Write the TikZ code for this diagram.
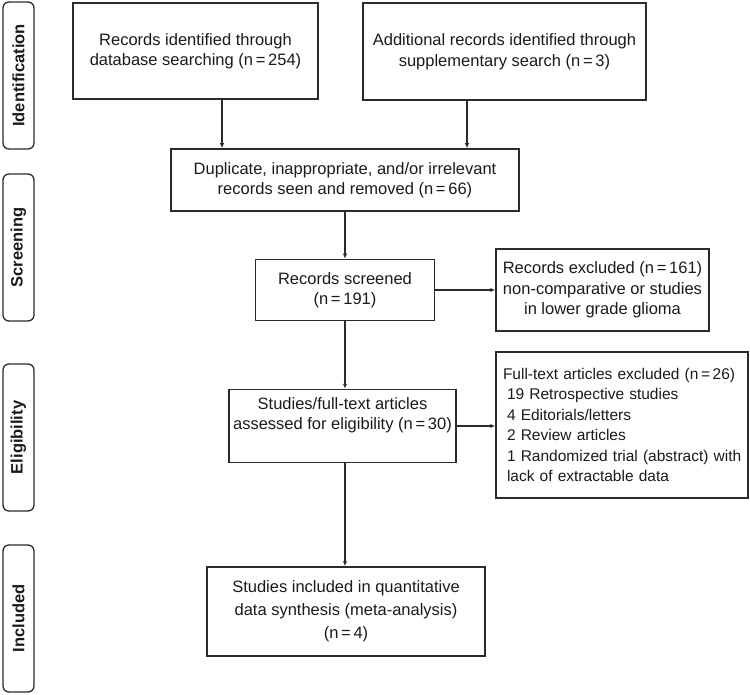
\documentclass[tikz,border=0pt]{standalone}
\usepackage{fontspec}
\setmainfont{Liberation Sans}
\usetikzlibrary{arrows.meta}
\definecolor{linec}{HTML}{2B2B2B}
\definecolor{txtc}{HTML}{1A1A1A}
\begin{document}
\begin{tikzpicture}[x=1pt,y=-1pt,
  box/.style={draw=linec, line width=1.5pt, inner sep=0pt, align=center, text=txtc,
    font=\fontsize{16.5}{20.5}\selectfont},
  side/.style={draw=linec, line width=1.3pt, rounded corners=6pt, rotate=90,
    minimum width=147pt, minimum height=31pt, inner sep=0pt, text=txtc,
    font=\fontsize{16.5}{20}\selectfont\bfseries},
  arr/.style={line width=1.6pt, draw=linec, -{Latex[length=5pt,width=4.5pt]}}
]
\useasboundingbox (0,0) rectangle (750,695);

% side labels
\node[side] (s1) at (18.5,75.5) {Identification};
\node[side] (s2) at (18.5,247.5) {Screening};
\node[side] (s3) at (18.5,437.5) {Eligibility};
\node[side] (s4) at (18.5,618.5) {Included};

% boxes
\node[box, minimum width=245pt, minimum height=96pt] (A) at (195.5,51)
  {Records identified through\\database searching (n\,=\,254)};
\node[box, minimum width=283pt, minimum height=97pt] (B) at (504.5,51.5)
  {Additional records identified through\\supplementary search (n\,=\,3)};
\node[box, minimum width=348pt, minimum height=62pt] (C) at (345,180)
  {Duplicate, inappropriate, and/or irrelevant\\records seen and removed (n\,=\,66)};
\node[box, minimum width=179pt, minimum height=61pt] (D) at (345,290)
  {Records screened\\(n\,=\,191)};
\node[box, minimum width=213pt, minimum height=82pt] (E) at (602.5,290)
  {Records excluded (n\,=\,161)\\non-comparative or studies\\in lower grade glioma};
\node[box, minimum width=227pt, minimum height=73pt] (G) at (342.5,426)
  {Studies/full-text articles\\assessed for eligibility (n\,=\,30)\\[4pt]};
\node[box, text width=238pt, inner xsep=7pt, minimum height=146pt, align=left,
  font=\fontsize{15.5}{20.4}\selectfont] (F) at (622,425)
  {\mbox{Full-text articles excluded (n\,=\,26)}\\
   \mbox{\hspace*{4pt}19 Retrospective studies}\\
   \mbox{\hspace*{4pt}4 Editorials/letters}\\
   \mbox{\hspace*{4pt}2 Review articles}\\
   \mbox{\hspace*{4pt}1 Randomized trial (abstract) with}\\
   \mbox{\hspace*{4pt}lack of extractable data}\\[6pt]};
\node[box, minimum width=278pt, minimum height=89pt,
  font=\fontsize{16.5}{23}\selectfont] (H) at (346,611.5)
  {Studies included in quantitative\\data synthesis (meta-analysis)\\(n\,=\,4)};

% connectors
\draw[arr] (A.south -| 222,0) -- (C.north -| 222,0);
\draw[arr] (B.south -| 467,0) -- (C.north -| 467,0);
\draw[arr] (C.south) -- (C.south |- D.north);
\draw[arr] (D.east) -- (D.east -| E.west);
\draw[arr] (D.south) -- (D.south |- G.north);
\draw[arr] (G.east) -- (G.east -| F.west);
\draw[arr] (G.south -| 345,0) -- (H.north -| 345,0);
\end{tikzpicture}
\end{document}
